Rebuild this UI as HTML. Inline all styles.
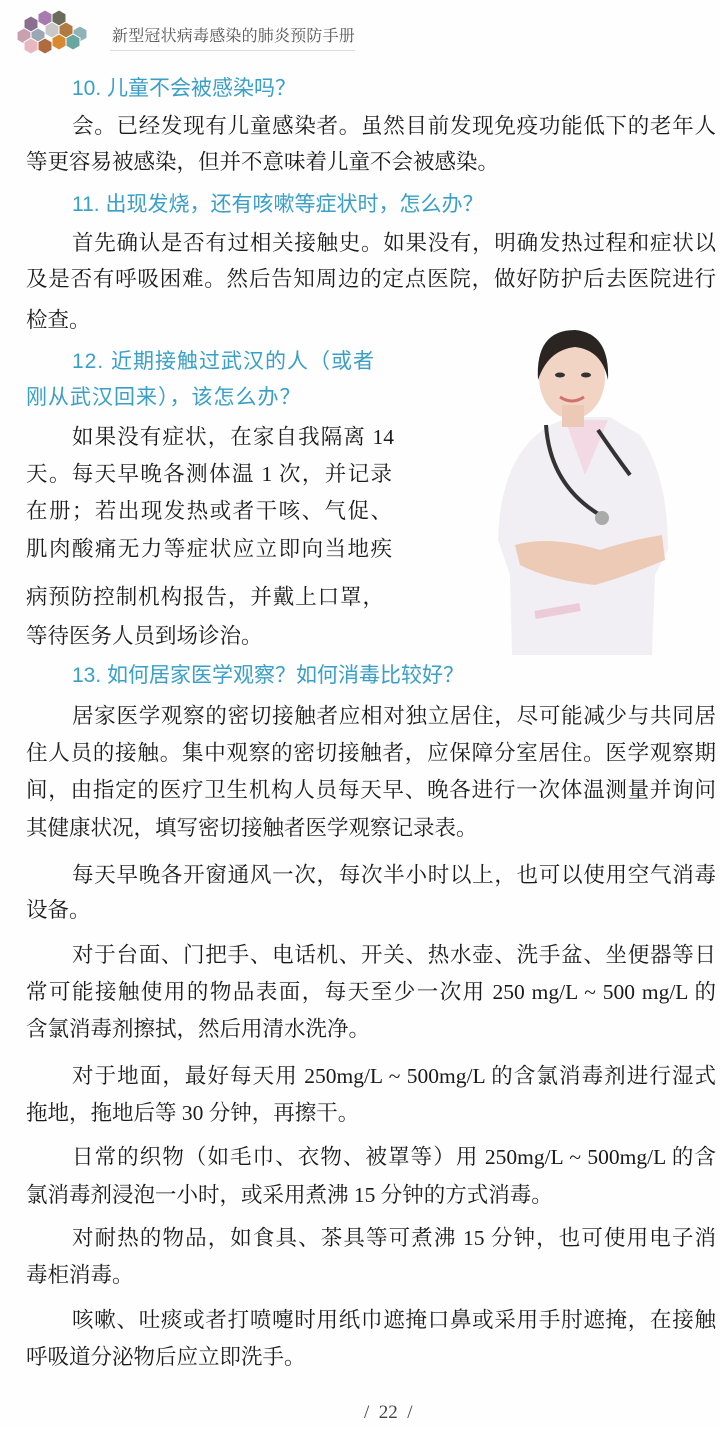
<!DOCTYPE html>
<html><head><meta charset="utf-8">
<style>
body{margin:0;width:720px;height:1429px;background:#fefefe;position:relative;overflow:hidden}
.t{position:absolute;font-family:"Liberation Serif","Noto Serif CJK SC",serif;font-size:21.5px;color:#1a1a1a;white-space:nowrap;line-height:30px;height:30px}
.j{text-align:justify;text-align-last:justify;white-space:normal;overflow:hidden}
.h{position:absolute;font-family:"Liberation Sans","Noto Sans CJK SC",sans-serif;font-size:21px;color:#3a9fc6;white-space:nowrap;line-height:30px}
</style></head><body>
<svg style="position:absolute;left:14px;top:8px" width="80" height="48" viewBox="0 0 80 48">
<g stroke="#fff" stroke-width="1">
<polygon points="10,12 17,8 24,12 24,20 17,24 10,20" fill="#8a6f8e"/>
<polygon points="24,6 31,2 38,6 38,14 31,18 24,14" fill="#a77ab0"/>
<polygon points="38,6 45,2 52,6 52,14 45,18 38,14" fill="#6b6b5a"/>
<polygon points="3,24 10,20 17,24 17,32 10,36 3,32" fill="#c9a0b0"/>
<polygon points="17,24 24,20 31,24 31,32 24,36 17,32" fill="#9aa7b5"/>
<polygon points="31,18 38,14 45,18 45,26 38,30 31,26" fill="#c8c8c8"/>
<polygon points="45,18 52,14 59,18 59,26 52,30 45,26" fill="#b07a40"/>
<polygon points="59,22 66,18 73,22 73,30 66,34 59,30" fill="#8fb4b8"/>
<polygon points="10,34 17,30 24,34 24,42 17,46 10,42" fill="#e8b8c0"/>
<polygon points="24,34 31,30 38,34 38,42 31,46 24,42" fill="#b06a40"/>
<polygon points="38,30 45,26 52,30 52,38 45,42 38,38" fill="#d88a30"/>
<polygon points="52,30 59,26 66,30 66,38 59,42 52,38" fill="#6aa6a0"/>
</g></svg>
<div style="position:absolute;left:112px;top:23px;font-family:'Liberation Serif','Noto Serif CJK SC',serif;font-size:16px;color:#555;letter-spacing:0.2px">新型冠状病毒感染的肺炎预防手册</div>
<div style="position:absolute;left:110px;top:50px;width:245px;height:1px;background:#ddd"></div>

<div class="h" style="left:72px;top:74px">10. 儿童不会被感染吗？</div>
<div class="t j" style="left:72px;top:111px;width:644px">会。已经发现有儿童感染者。虽然目前发现免疫功能低下的老年人</div>
<div class="t" style="left:26px;top:147px">等更容易被感染，但并不意味着儿童不会被感染。</div>

<div class="h" style="left:72px;top:190px">11. 出现发烧，还有咳嗽等症状时，怎么办？</div>
<div class="t j" style="left:72px;top:228px;width:644px">首先确认是否有过相关接触史。如果没有，明确发热过程和症状以</div>
<div class="t j" style="left:26px;top:264px;width:690px">及是否有呼吸困难。然后告知周边的定点医院，做好防护后去医院进行</div>
<div class="t" style="left:26px;top:305px">检查。</div>

<div class="h" style="left:72px;top:347px;letter-spacing:1px">12. 近期接触过武汉的人（或者</div>
<div class="h" style="left:26px;top:383px;letter-spacing:1px">刚从武汉回来），该怎么办？</div>
<div class="t j" style="left:72px;top:422px;width:322px">如果没有症状，在家自我隔离 14</div>
<div class="t j" style="left:26px;top:459px;width:366px">天。每天早晚各测体温 1 次，并记录</div>
<div class="t j" style="left:26px;top:496px;width:366px">在册；若出现发热或者干咳、气促、</div>
<div class="t j" style="left:26px;top:534px;width:366px">肌肉酸痛无力等症状应立即向当地疾</div>
<div class="t j" style="left:26px;top:582px;width:358px">病预防控制机构报告，并戴上口罩，</div>
<div class="t" style="left:26px;top:621px">等待医务人员到场诊治。</div>

<svg style="position:absolute;left:490px;top:325px" width="185" height="335" viewBox="0 0 185 335">
<path d="M22 330 L20 250 L8 215 Q10 130 60 100 L80 92 L120 92 L150 110 Q178 150 178 225 L165 250 L162 330 Z" fill="#f1eff4"/>
<path d="M75 95 L95 150 L118 95 Z" fill="#f3d9e3"/>
<path d="M25 220 Q60 210 110 225 Q140 215 172 210 L175 235 Q140 250 105 260 Q60 255 30 240 Z" fill="#eccab6"/>
<path d="M45 290 L90 282" stroke="#eccbd8" stroke-width="8"/>
<ellipse cx="82" cy="52" rx="33" ry="42" fill="#f2d4c4"/>
<rect x="72" y="80" width="22" height="22" fill="#ecc8b6"/>
<path d="M48 55 Q45 5 85 5 Q120 8 118 55 Q112 25 85 22 Q58 25 48 55 Z" fill="#2b2522"/>
<path d="M70 72 Q82 80 94 72" stroke="#d07070" stroke-width="3" fill="none"/>
<ellipse cx="70" cy="50" rx="5" ry="2.5" fill="#333"/><ellipse cx="96" cy="50" rx="5" ry="2.5" fill="#333"/>
<path d="M56 100 Q60 160 110 190 M108 105 Q125 130 140 150" stroke="#333" stroke-width="4" fill="none"/>
<circle cx="112" cy="193" r="7" fill="#aaa"/>
</svg>

<div class="h" style="left:72px;top:661px">13. 如何居家医学观察？如何消毒比较好？</div>
<div class="t j" style="left:72px;top:701px;width:644px">居家医学观察的密切接触者应相对独立居住，尽可能减少与共同居</div>
<div class="t j" style="left:26px;top:738px;width:690px">住人员的接触。集中观察的密切接触者，应保障分室居住。医学观察期</div>
<div class="t j" style="left:26px;top:775px;width:690px">间，由指定的医疗卫生机构人员每天早、晚各进行一次体温测量并询问</div>
<div class="t" style="left:26px;top:813px">其健康状况，填写密切接触者医学观察记录表。</div>
<div class="t j" style="left:72px;top:860px;width:644px">每天早晚各开窗通风一次，每次半小时以上，也可以使用空气消毒</div>
<div class="t" style="left:26px;top:895px">设备。</div>
<div class="t j" style="left:72px;top:940px;width:644px">对于台面、门把手、电话机、开关、热水壶、洗手盆、坐便器等日</div>
<div class="t j" style="left:26px;top:977px;width:690px">常可能接触使用的物品表面，每天至少一次用 250 mg/L ~ 500 mg/L 的</div>
<div class="t" style="left:26px;top:1014px">含氯消毒剂擦拭，然后用清水洗净。</div>
<div class="t j" style="left:72px;top:1061px;width:644px">对于地面，最好每天用 250mg/L ~ 500mg/L 的含氯消毒剂进行湿式</div>
<div class="t" style="left:26px;top:1098px">拖地，拖地后等 30 分钟，再擦干。</div>
<div class="t j" style="left:72px;top:1142px;width:644px">日常的织物（如毛巾、衣物、被罩等）用 250mg/L ~ 500mg/L 的含</div>
<div class="t" style="left:26px;top:1180px">氯消毒剂浸泡一小时，或采用煮沸 15 分钟的方式消毒。</div>
<div class="t j" style="left:72px;top:1223px;width:644px">对耐热的物品，如食具、茶具等可煮沸 15 分钟，也可使用电子消</div>
<div class="t" style="left:26px;top:1260px">毒柜消毒。</div>
<div class="t j" style="left:72px;top:1305px;width:644px">咳嗽、吐痰或者打喷嚏时用纸巾遮掩口鼻或采用手肘遮掩，在接触</div>
<div class="t" style="left:26px;top:1342px">呼吸道分泌物后应立即洗手。</div>

<div class="t" style="left:364px;top:1398px;font-size:19px;color:#444">/&nbsp;&nbsp;22&nbsp;&nbsp;/</div>
</body></html>
